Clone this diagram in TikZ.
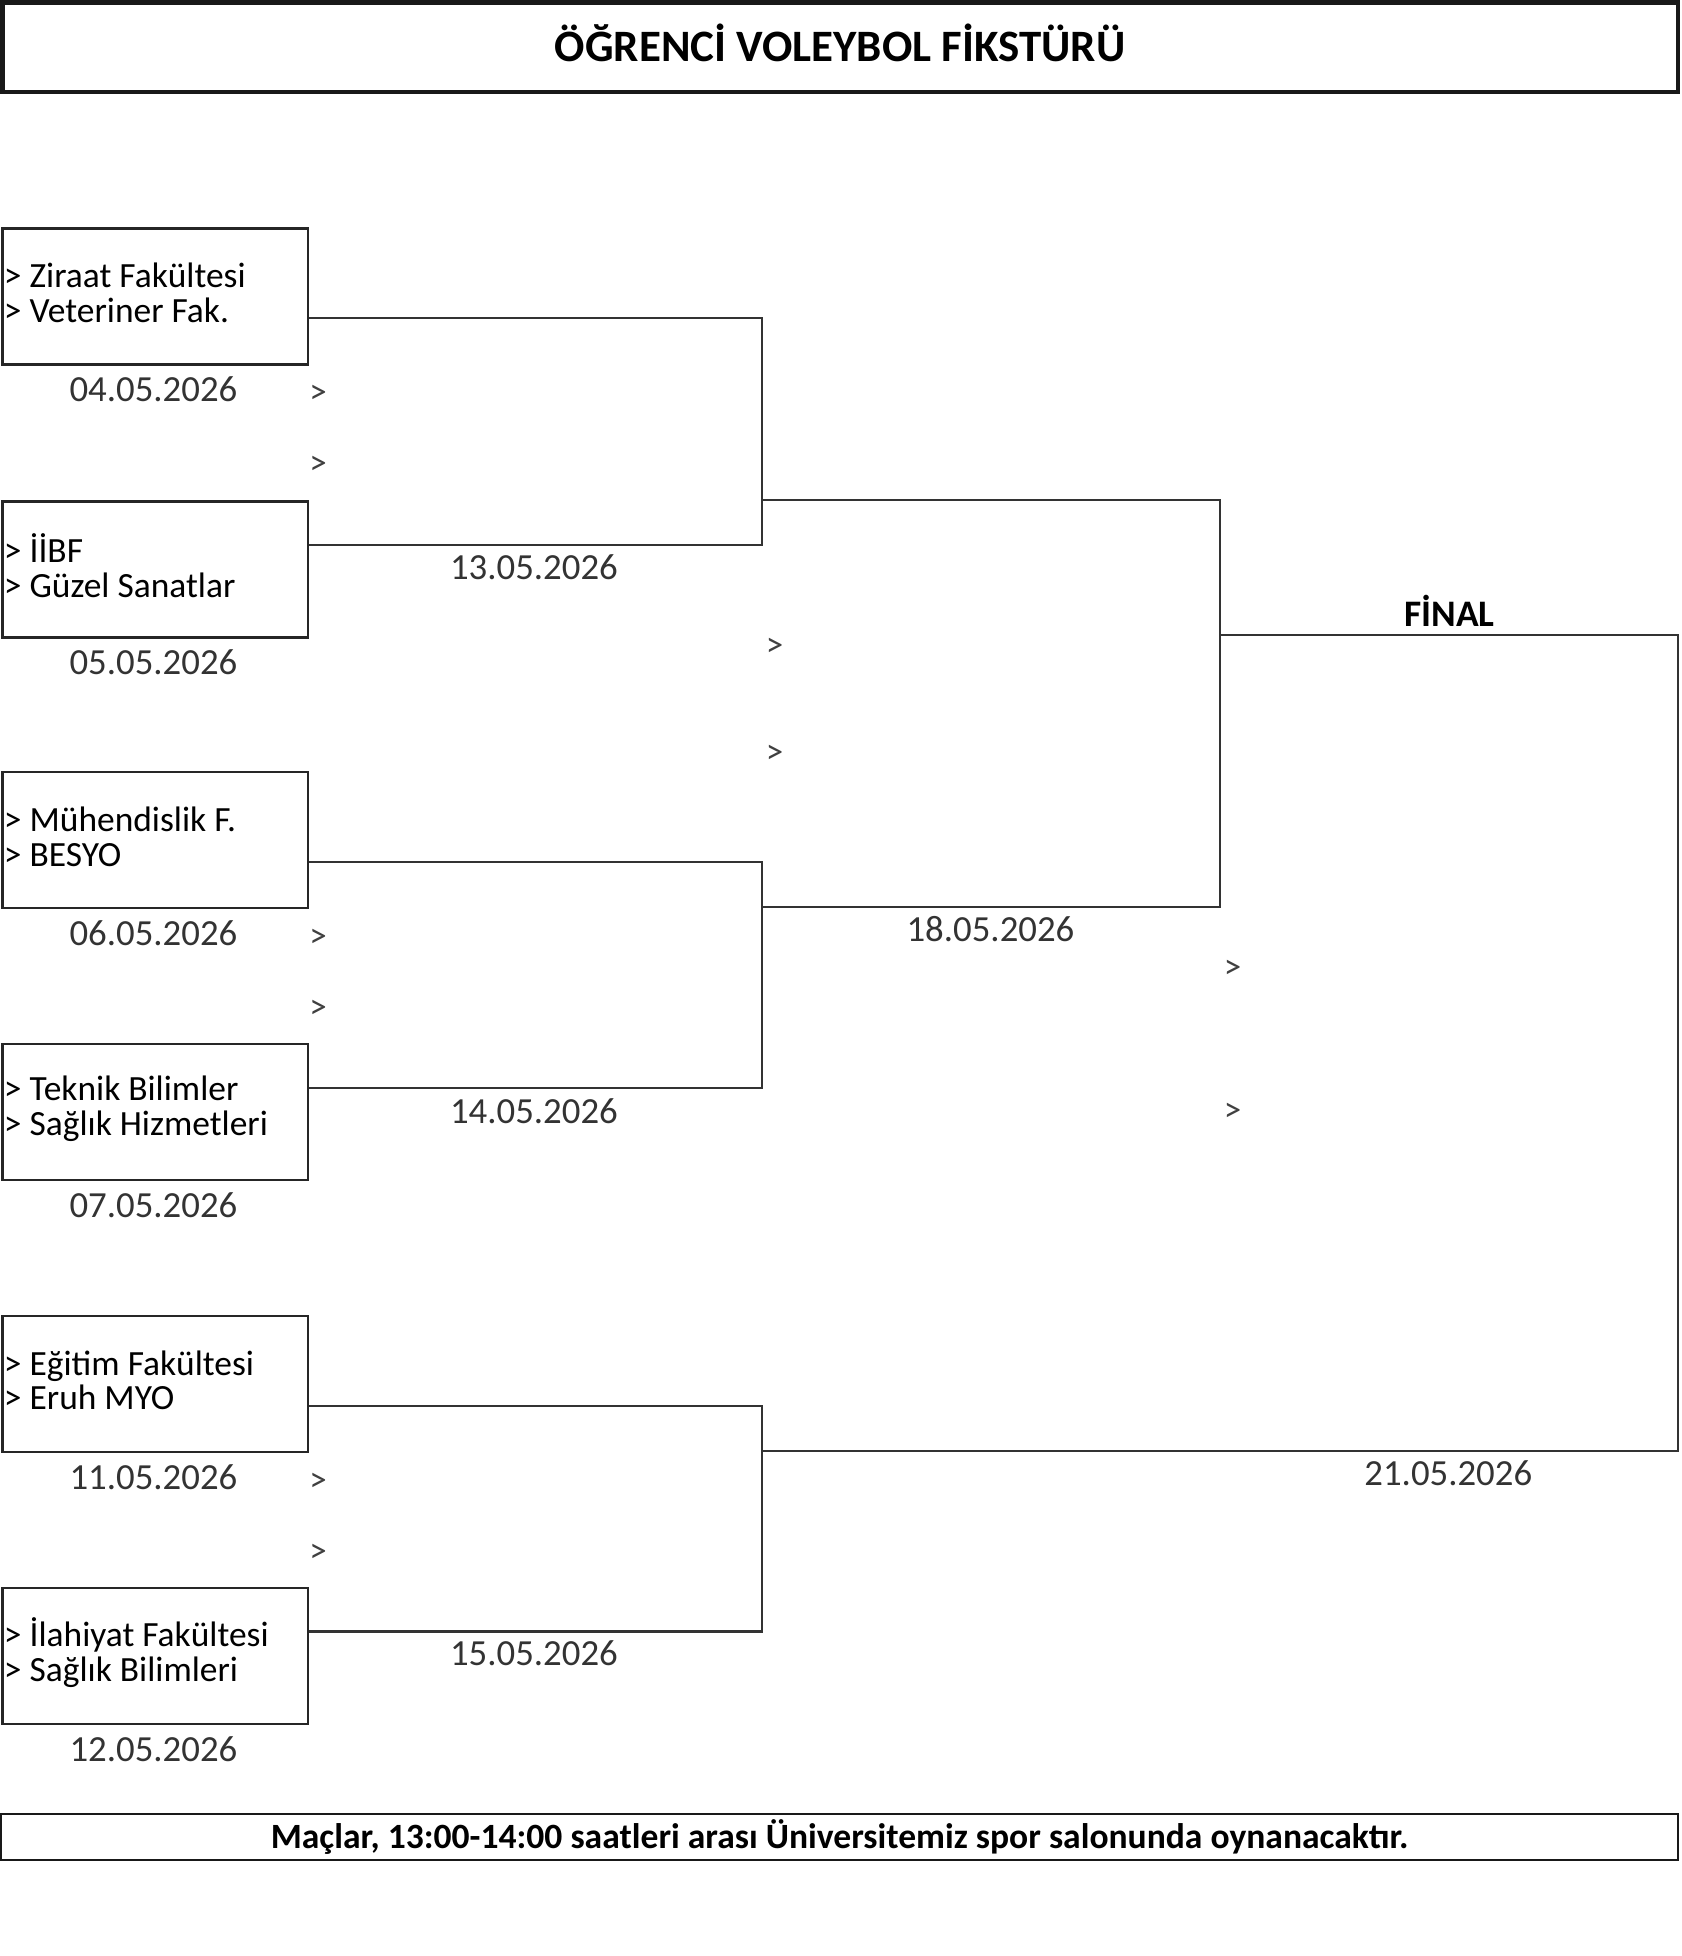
\documentclass[tikz,border=0pt]{standalone}
\usepackage{fontspec}
\setmainfont{Carlito}
\usetikzlibrary{calc, positioning}

\begin{document}
\begin{tikzpicture}[x=1pt, y=-1pt,
    teambox/.style={draw=black!85, line width=2pt, anchor=north west,
        minimum width=245pt, minimum height=109pt},
    teamtext/.style={anchor=west, inner xsep=2pt, align=left,
        font=\fontsize{28.4}{28}\selectfont},
    datum/.style={text=black!80, font=\fontsize{29.5}{30}\selectfont},
    pick/.style={text=black!75, font=\fontsize{28}{28}\selectfont},
    bracket/.style={draw=black!80, line width=2pt},
    heading/.style={font=\bfseries\fontsize{30}{32}\selectfont}]
    \useasboundingbox (0,0) rectangle (1348,1568);

    % 1. Başlık kutusu
    \draw[draw=black!90, line width=3.5pt] (2,2) rectangle (1345,74);
    \node[heading, font=\bfseries\fontsize{36}{38}\selectfont] (baslik) at (673.5,34)
        {ÖĞRENCİ VOLEYBOL FİKSTÜRÜ};

    % 2. Takım kutuları ve maç tarihleri
    \foreach \n/\y/\a/\b/\d in {1/182/Ziraat Fakültesi/Veteriner Fak./04.05.2026,
        2/401/İİBF/Güzel Sanatlar/05.05.2026,
        3/618/Mühendislik F./BESYO/06.05.2026,
        4/836/Teknik Bilimler/Sağlık Hizmetleri/07.05.2026,
        5/1054/Eğitim Fakültesi/Eruh MYO/11.05.2026,
        6/1272/İlahiyat Fakültesi/Sağlık Bilimleri/12.05.2026} {
        \node[teambox] (t\n) at (1,\y) {};
        \node[teamtext] (n\n) at ($(t\n.west)+(0,-3)$) {> \a\\> \b};
        \node[datum] (d\n) at ($(t\n.south)+(-1.5,19)$) {\d};
        \coordinate (a\n) at ($(t\n.north east)+(0,73)$);
        \coordinate (b\n) at ($(t\n.north east)+(0,36)$);
    }

    % 3. Tur noktaları
    \coordinate (k1) at (611,401);
    \coordinate (k2) at (611,727);
    \coordinate (k3) at (611,1163);
    \coordinate (k4) at (978,509);
    \coordinate (k5) at (1345,800);

    % 4. Eşleşme çizgileri
    \draw[bracket] (a1) -| (k1) |- (b2);
    \draw[bracket] (a3) -| (k2) |- (b4);
    \draw[bracket] (a5) -| (k3) |- (b6);
    \draw[bracket] (k1) -| (k4) |- (k2);
    \draw[bracket] (k4) -| (k5) |- (k3);

    % 5. Tur tarihleri
    \node[datum] (d13) at (428,455) {13.05.2026};
    \node[datum] (d14) at (428,891) {14.05.2026};
    \node[datum] (d15) at (428,1325) {15.05.2026};
    \node[datum] (d18) at (794,745) {18.05.2026};
    \node[datum] (d21) at (1161,1181) {21.05.2026};
    \node[heading] (final) at (1162,490) {FİNAL};

    % 6. Kazanan işaretleri
    \foreach \x/\y in {255/316, 255/373, 255/752, 255/809, 255/1188, 255/1245,
        621/519, 621/605, 988/777, 988/892} {
        \node[pick] at (\x,\y) {>};
    }

    % 7. Alt bilgi
    \node[draw=black!90, line width=2pt, minimum width=1344pt, minimum height=37pt,
        inner ysep=0pt, font=\bfseries\fontsize{28.5}{29}\selectfont] (not) at (673,1472.5)
        {Maçlar, 13:00-14:00 saatleri arası Üniversitemiz spor salonunda oynanacaktır.};
\end{tikzpicture}
\end{document}
